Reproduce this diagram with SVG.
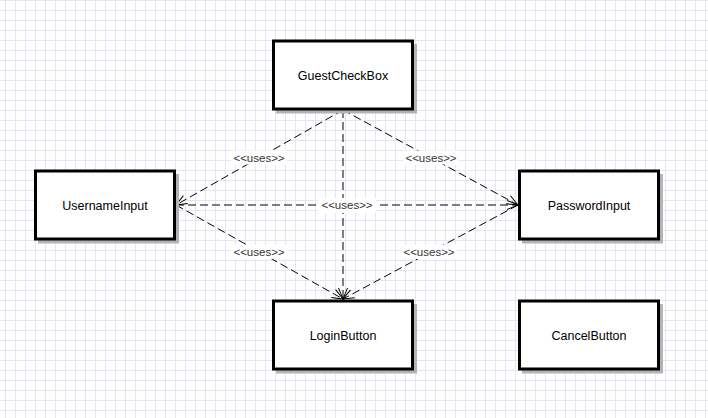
<svg xmlns="http://www.w3.org/2000/svg" width="708" height="418" viewBox="0 0 708 418">
<defs>
<pattern id="grid" x="0" y="0" width="10" height="10" patternUnits="userSpaceOnUse">
<path d="M5.5,0 V10 M0,0.5 H10" stroke="#e4e4f6" stroke-width="1" fill="none"/>
</pattern>
<marker id="open" viewBox="-12 -6 14 12" refX="0" refY="0" markerWidth="14" markerHeight="12" markerUnits="userSpaceOnUse" orient="auto">
<path d="M-11,-4.5 L0,0 L-11,4.5" fill="none" stroke="#000" stroke-width="1" stroke-dasharray="none"/>
</marker>
<style>
.box{fill:#fff;stroke:#000;stroke-width:3}
.shadow{fill:#b3b3b3}
.name{font-family:"Liberation Sans",Arial,sans-serif;font-size:12.5px;fill:#000;text-anchor:middle}
.conn{fill:none;stroke:#000;stroke-width:1;stroke-dasharray:8 4;marker-end:url(#open)}
.plain{marker-end:none}
.lblbg{fill:#fff}
.lbl{font-family:"Liberation Sans",Arial,sans-serif;font-size:11.5px;fill:#333;text-anchor:middle}
</style>
</defs>
<rect width="708" height="418" fill="#fff"/>
<rect width="708" height="418" fill="url(#grid)"/>

<g id="connectors">
<path class="conn" d="M343,110 L176,205"/>
<path class="conn" d="M343,110 L518,205"/>
<path class="conn" d="M343,110 L343,299"/>
<path class="conn" d="M176,205 L518,205"/>
<path class="conn" d="M176,205 L343,299"/>
<path class="conn" d="M518,205 L343,299"/>
<g id="labels">
<rect class="lblbg" x="231" y="150.5" width="56" height="14"/>
<text class="lbl" x="259" y="161.5">&lt;&lt;uses&gt;&gt;</text>
<rect class="lblbg" x="403" y="150.5" width="56" height="14"/>
<text class="lbl" x="431" y="161.5">&lt;&lt;uses&gt;&gt;</text>
<rect class="lblbg" x="318" y="198" width="58" height="15"/>
<text class="lbl" x="347" y="209">&lt;&lt;uses&gt;&gt;</text>
<rect class="lblbg" x="231" y="245" width="56" height="14"/>
<text class="lbl" x="259" y="256">&lt;&lt;uses&gt;&gt;</text>
<rect class="lblbg" x="401" y="245" width="56" height="14"/>
<text class="lbl" x="429" y="256">&lt;&lt;uses&gt;&gt;</text>
</g>
</g>

<g id="GuestCheckBox">
<rect class="shadow" x="276" y="44" width="141" height="69.5"/>
<rect class="box" x="273.5" y="41" width="139" height="68"/>
<text class="name" x="343" y="79.5">GuestCheckBox</text>
</g>
<g id="UsernameInput">
<rect class="shadow" x="38" y="174" width="141" height="69.5"/>
<rect class="box" x="35.5" y="171" width="139" height="68"/>
<text class="name" x="105" y="209.5">UsernameInput</text>
</g>
<g id="PasswordInput">
<rect class="shadow" x="522" y="174" width="141" height="69.5"/>
<rect class="box" x="519.5" y="171" width="139" height="68"/>
<text class="name" x="589" y="209.5">PasswordInput</text>
</g>
<g id="LoginButton">
<rect class="shadow" x="276" y="304" width="141" height="69.5"/>
<rect class="box" x="273.5" y="301" width="139" height="68"/>
<text class="name" x="343" y="339.5">LoginButton</text>
</g>
<g id="CancelButton">
<rect class="shadow" x="522" y="304" width="141" height="69.5"/>
<rect class="box" x="519.5" y="301" width="139" height="68"/>
<text class="name" x="589" y="339.5">CancelButton</text>
</g>
</svg>
